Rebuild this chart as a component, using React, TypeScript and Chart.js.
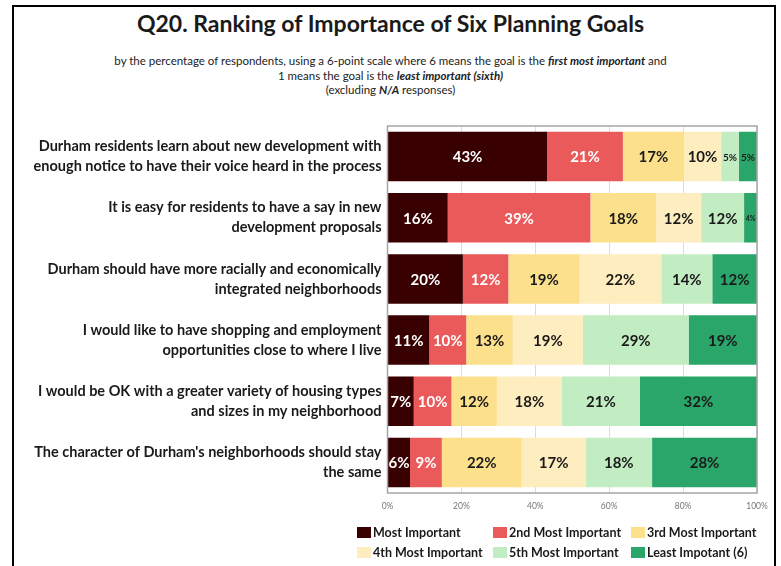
import React, { useEffect, useRef } from "react";
import { Chart, registerables } from "chart.js";

Chart.register(...registerables);

const categories: string[][] = [
  ["Durham residents learn about new development with", "enough notice to have their voice heard in the process"],
  ["It is easy for residents to have a say in new", "development proposals"],
  ["Durham should have more racially and economically", "integrated neighborhoods"],
  ["I would like to have shopping and employment", "opportunities close to where I live"],
  ["I would be OK with a greater variety of housing types", "and sizes in my neighborhood"],
  ["The character of Durham's neighborhoods should stay", "the same"],
];

const seriesNames = [
  "Most Important",
  "2nd Most Important",
  "3rd Most Important",
  "4th Most Important",
  "5th Most Important",
  "Least Impotant (6)",
];

const mostImportant = [43.2, 16.3, 20.4, 11.3, 7.1, 6.1];
const secondMost = [20.5, 38.6, 12.3, 10.0, 10.2, 8.6];
const thirdMost = [16.5, 17.8, 19.3, 12.6, 12.3, 21.6];
const fourthMost = [10.1, 12.2, 22.1, 19.0, 17.6, 17.3];
const fifthMost = [4.8, 11.6, 13.8, 28.6, 21.1, 18.0];
const leastImportant = [4.9, 3.5, 12.1, 18.5, 31.7, 28.4];

const xTicks = [0, 20, 40, 60, 80, 100];

const colors = ["#380000", "#EA5A5A", "#FDE08C", "#FEEDBE", "#C2ECC2", "#2BA66B"];
const labelColors = ["#ffffff", "#ffffff", "#1a1a1a", "#1a1a1a", "#1a1a1a", "#1a1a1a"];

const FONT = "Lato, 'Open Sans', sans-serif";

const valueLabelPlugin = {
  id: "valueLabels",
  afterDatasetsDraw(chart: any) {
    const ctx = chart.ctx;
    ctx.save();
    chart.data.datasets.forEach((ds: any, di: number) => {
      const meta = chart.getDatasetMeta(di);
      meta.data.forEach((bar: any, i: number) => {
        const v = ds.data[i];
        const size = v >= 6 ? 15 : v >= 4.5 ? 10 : 7;
        ctx.font = `bold ${size}px ${FONT}`;
        ctx.fillStyle = labelColors[di];
        ctx.textAlign = "center";
        ctx.textBaseline = "middle";
        ctx.fillText(Math.round(v) + "%", (bar.x + bar.base) / 2, bar.y + 1);
      });
    });
    ctx.restore();
  },
};

const framePlugin = {
  id: "plotFrame",
  afterDraw(chart: any) {
    const { ctx, chartArea } = chart;
    ctx.save();
    ctx.strokeStyle = "#a6a6a6";
    ctx.lineWidth = 1.5;
    ctx.strokeRect(chartArea.left, chartArea.top, chartArea.right - chartArea.left, chartArea.bottom - chartArea.top);
    ctx.restore();
  },
};

export default function App() {
  const canvasRef = useRef<HTMLCanvasElement | null>(null);

  useEffect(() => {
    if (!canvasRef.current) return;
    const seriesData = [mostImportant, secondMost, thirdMost, fourthMost, fifthMost, leastImportant];
    const chart = new Chart(canvasRef.current, {
      type: "bar",
      data: {
        labels: categories,
        datasets: seriesData.map((d, i) => ({
          label: seriesNames[i],
          data: d,
          backgroundColor: colors[i],
          borderWidth: 0,
          barPercentage: 0.81,
          categoryPercentage: 1,
        })),
      },
      options: {
        indexAxis: "y",
        responsive: false,
        maintainAspectRatio: false,
        animation: false,
        layout: { padding: { top: 9, right: 24, bottom: 0, left: 0 } },
        plugins: {
          legend: { display: false },
          tooltip: { enabled: false },
          title: { display: false },
        },
        scales: {
          x: {
            stacked: true,
            min: 0,
            max: 100,
            afterBuildTicks: (scale: any) => {
              scale.ticks = xTicks.map((v) => ({ value: v }));
            },
            afterFit: (scale: any) => {
              scale.height = 32;
            },
            ticks: {
              callback: (v: any) => v + "%",
              font: { family: FONT, size: 8.5 },
              color: "#777777",
              padding: 8,
              maxRotation: 0,
            },
            grid: { color: "#dcdcdc", drawTicks: false, lineWidth: 1 },
            border: { display: false },
          },
          y: {
            stacked: true,
            afterFit: (scale: any) => {
              scale.width = 387.5;
            },
            ticks: {
              font: { family: FONT, size: 14.5, weight: "bold", lineHeight: 1.38 },
              color: "#1a1a1a",
              padding: 6,
            },
            grid: { display: false, drawTicks: false },
            border: { display: false },
          },
        },
      },
      plugins: [valueLabelPlugin, framePlugin],
    } as any);
    return () => chart.destroy();
  }, []);

  const legendCols = [357, 493, 631];
  const legendRows = [532, 552];

  return (
    <div
      style={{
        position: "absolute",
        left: 0,
        top: 0,
        width: 781,
        height: 566,
        overflow: "hidden",
        background: "#ffffff",
        fontFamily: FONT,
        color: "#1a1a1a",
      }}
    >
      <div
        style={{
          position: "absolute",
          left: 12,
          top: 5,
          width: 764,
          height: 620,
          border: "2px solid #000",
          boxSizing: "border-box",
        }}
      />
      <div
        style={{
          position: "absolute",
          left: 0,
          top: 6,
          width: 781,
          textAlign: "center",
          fontSize: 23,
          fontWeight: "bold",
          lineHeight: "34px",
        }}
      >
        Q20. Ranking of Importance of Six Planning Goals
      </div>
      <div
        style={{
          position: "absolute",
          left: 0,
          top: 54,
          width: 781,
          textAlign: "center",
          fontSize: 11.5,
          lineHeight: "14.5px",
          color: "#222",
        }}
      >
        <div>
          by the percentage of respondents, using a 6-point scale where 6 means the goal is the{" "}
          <b><i>first most important</i></b> and
        </div>
        <div>
          1 means the goal is the <b><i>least important (sixth)</i></b>
        </div>
        <div>
          (excluding <b><i>N/A</i></b> responses)
        </div>
      </div>
      <div style={{ position: "absolute", left: 0, top: 100, width: 781, height: 425 }}>
        <canvas ref={canvasRef} width={781} height={425} style={{ width: 781, height: 425, display: "block" }} />
      </div>
      {seriesNames.map((name, i) => {
        const col = i % 3;
        const row = Math.floor(i / 3);
        return (
          <div
            key={name}
            style={{
              position: "absolute",
              left: legendCols[col],
              top: legendRows[row] - 9,
              height: 18,
              display: "flex",
              alignItems: "center",
              fontSize: 12.5,
              fontWeight: "bold",
              whiteSpace: "nowrap",
            }}
          >
            <span style={{ display: "inline-block", width: 14, height: 11, background: colors[i], marginRight: 2 }} />
            {name}
          </div>
        );
      })}
    </div>
  );
}
